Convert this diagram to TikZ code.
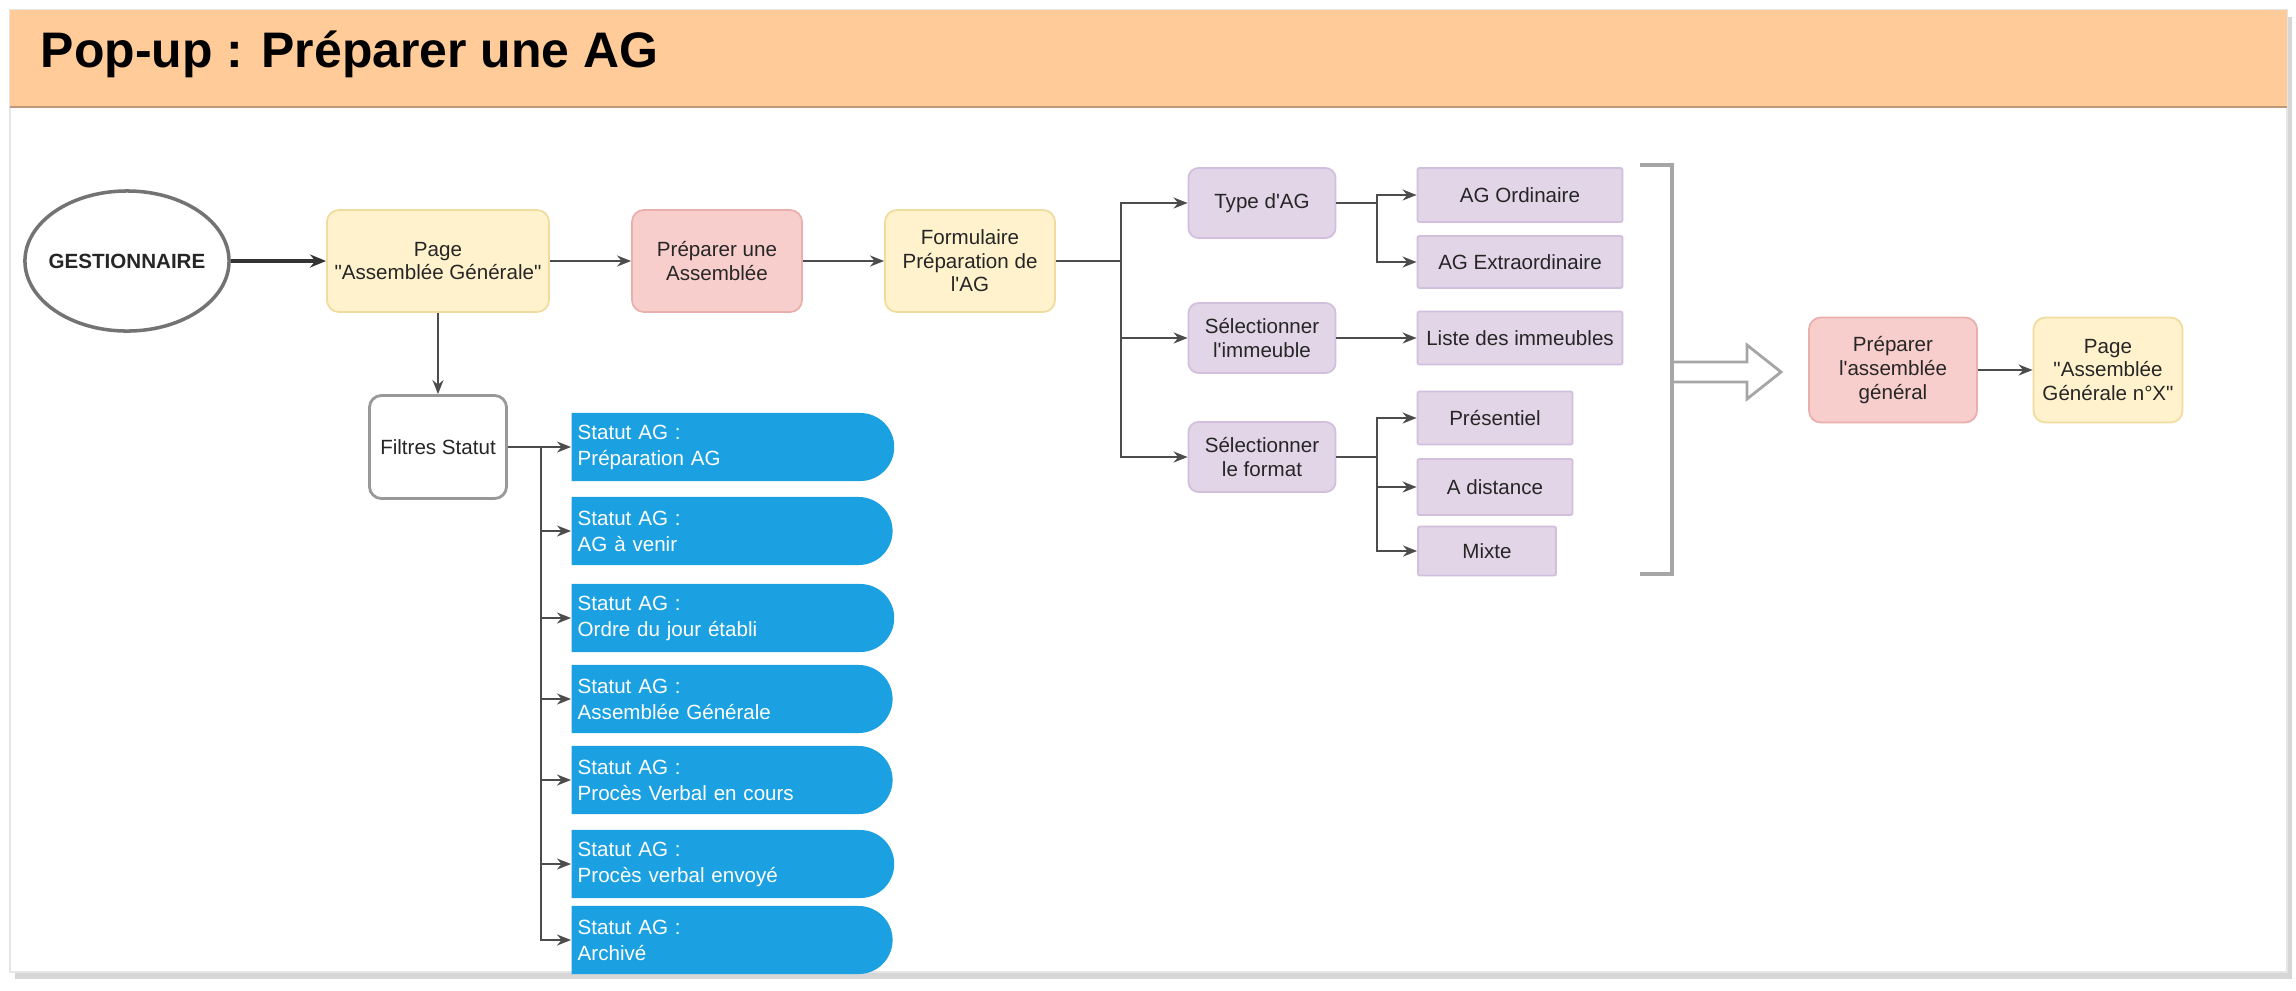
\documentclass[tikz,border=0pt]{standalone}
\usepackage{fontspec}
\setmainfont{Liberation Sans}[Ligatures=TeXOff]
\usetikzlibrary{arrows.meta,shapes.geometric,shapes.misc}
\definecolor{hdr}{HTML}{FFCB99}
\definecolor{ylw}{HTML}{FFF2CC}
\definecolor{ylwd}{HTML}{F0DC9E}
\definecolor{pnk}{HTML}{F8CECC}
\definecolor{pnkd}{HTML}{E9AFAD}
\definecolor{prp}{HTML}{E1D5E7}
\definecolor{prpd}{HTML}{D2BFDC}
\definecolor{sblue}{HTML}{1BA1E2}
\begin{document}
\begin{tikzpicture}[x=0.01cm,y=-0.01cm,
  every node/.style={font=\fontsize{5.85pt}{6.7pt}\selectfont,align=center,inner sep=0pt,text=black!85},
  yellowbox/.style={draw=ylwd,fill=ylw,line width=0.5pt,rounded corners=0.12cm,minimum height=1.02cm},
  pinkbox/.style={draw=pnkd,fill=pnk,line width=0.5pt,rounded corners=0.12cm,minimum height=1.02cm},
  purplebox/.style={draw=prpd,fill=prp,line width=0.5pt,rounded corners=0.1cm,minimum width=1.47cm,minimum height=0.7cm},
  optbox/.style={draw=prpd,fill=prp,line width=0.5pt,rounded corners=0.02cm},
  statutbox/.style={rounded rectangle,rounded rectangle west arc=none,fill=sblue,text=white,align=left,
    text width=3.02cm,inner xsep=0.06cm,minimum height=0.68cm,font=\fontsize{5.85pt}{7.4pt}\selectfont},
  wire/.style={draw=black!70,line width=0.55pt},
  arr/.style={wire,-{Stealth[length=0.14cm,width=0.11cm]}}
]
  \useasboundingbox (0,0) rectangle (2296,990);
  \fill[black!16] (15,17) rectangle (2292,979);
  \draw[black!10,fill=white] (10,10) rectangle (2287,972);
  \fill[hdr] (10,10) rectangle (2287,107);
  \draw[hdr!75!black,line width=0.6pt] (10,107) -- (2287,107);
  \node[anchor=base west,font=\bfseries\fontsize{14.2pt}{16pt}\selectfont,text=black] at (40,67) (title) {Pop-up : Préparer une AG};

  \node[ellipse,draw=black!55,fill=white,line width=1pt,minimum width=2.04cm,minimum height=1.4cm,
    font=\bfseries\fontsize{5.85pt}{6.7pt}\selectfont] at (127,261) (ges) {\makebox[0pt]{GESTIONNAIRE}};
  \node[yellowbox,minimum width=2.22cm] at (438,261) (page) {Page\\"Assemblée Générale"};
  \node[pinkbox,minimum width=1.7cm] at (717,261) (prep) {Préparer une\\Assemblée};
  \node[yellowbox,minimum width=1.7cm] at (970,261) (form) {Formulaire\\Préparation de\\l'AG};

  \node[purplebox] at (1262,203) (type) {Type d'AG};
  \node[purplebox] at (1262,338) (imm) {Sélectionner\\l'immeuble};
  \node[purplebox] at (1262,457) (fmt) {Sélectionner\\le format};
  \node[optbox,minimum width=2.05cm,minimum height=0.54cm] at (1520,195) (ordi) {AG Ordinaire};
  \node[optbox,minimum width=2.05cm,minimum height=0.52cm] at (1520,262) (extra) {AG Extraordinaire};
  \node[optbox,minimum width=2.05cm,minimum height=0.53cm] at (1520,338) (liste) {Liste des immeubles};
  \node[optbox,minimum width=1.55cm,minimum height=0.53cm] at (1495,418) (pres) {Présentiel};
  \node[optbox,minimum width=1.55cm,minimum height=0.56cm] at (1495,487) (dist) {A distance};
  \node[optbox,minimum width=1.38cm,minimum height=0.49cm] at (1487,551) (mixte) {Mixte};

  \node[pinkbox,minimum width=1.68cm,minimum height=1.05cm] at (1893,370) (prepag) {Préparer\\l'assemblée\\général};
  \node[yellowbox,minimum width=1.49cm,minimum height=1.05cm] at (2108,370) (pagex) {Page\\"Assemblée\\Générale n°X"};

  \node[draw=black!40,fill=white,line width=0.8pt,rounded corners=0.12cm,minimum width=1.37cm,minimum height=1.03cm] at (438,447) (filt) {Filtres Statut};
  \foreach \i/\y/\t in {1/447/Préparation AG,2/531/AG à venir,3/618/Ordre du jour établi,4/699/Assemblée Générale,
    5/780/Procès Verbal en cours,6/864/Procès verbal envoyé,7/940/Archivé}
    \node[statutbox,anchor=west] at (571,\y) (s\i) {Statut AG :\\\t};

  \draw[line width=1.1pt,draw=black!80,-{Stealth[length=0.16cm,width=0.13cm]}] (ges) -- (page);
  \draw[arr] (page) -- (prep);
  \draw[arr] (prep) -- (form);
  \coordinate (tr) at (1121,261);
  \draw[wire] (form) -- (tr);
  \foreach \n in {type,imm,fmt} \draw[arr] (tr) |- (\n);
  \coordinate (tb) at (1377,203);
  \draw[wire] (type) -- (tb);
  \foreach \n in {ordi,extra} \draw[arr] (tb) |- (\n);
  \draw[arr] (imm) -- (liste);
  \coordinate (fb) at (1377,457);
  \draw[wire] (fmt) -- (fb);
  \foreach \n in {pres,dist,mixte} \draw[arr] (fb) |- (\n);

  \coordinate (bt) at (1672,165);
  \coordinate (bb) at (1672,574);
  \draw[black!35,line width=1pt] ([xshift=-0.32cm]bt) -- (bt) -- (bb) -- ([xshift=-0.32cm]bb);
  \draw[black!35,line width=0.8pt,fill=white] (1674,362) -- (1747,362) -- (1747,345) -- (1781,372)
    -- (1747,399) -- (1747,382) -- (1674,382);
  \draw[arr] (prepag) -- (pagex);

  \draw[arr] (page) -- (filt);
  \coordinate (sb) at (541,447);
  \draw[wire] (filt) -- (sb);
  \foreach \i in {1,...,7} \draw[arr] (sb) |- (s\i);
\end{tikzpicture}
\end{document}
